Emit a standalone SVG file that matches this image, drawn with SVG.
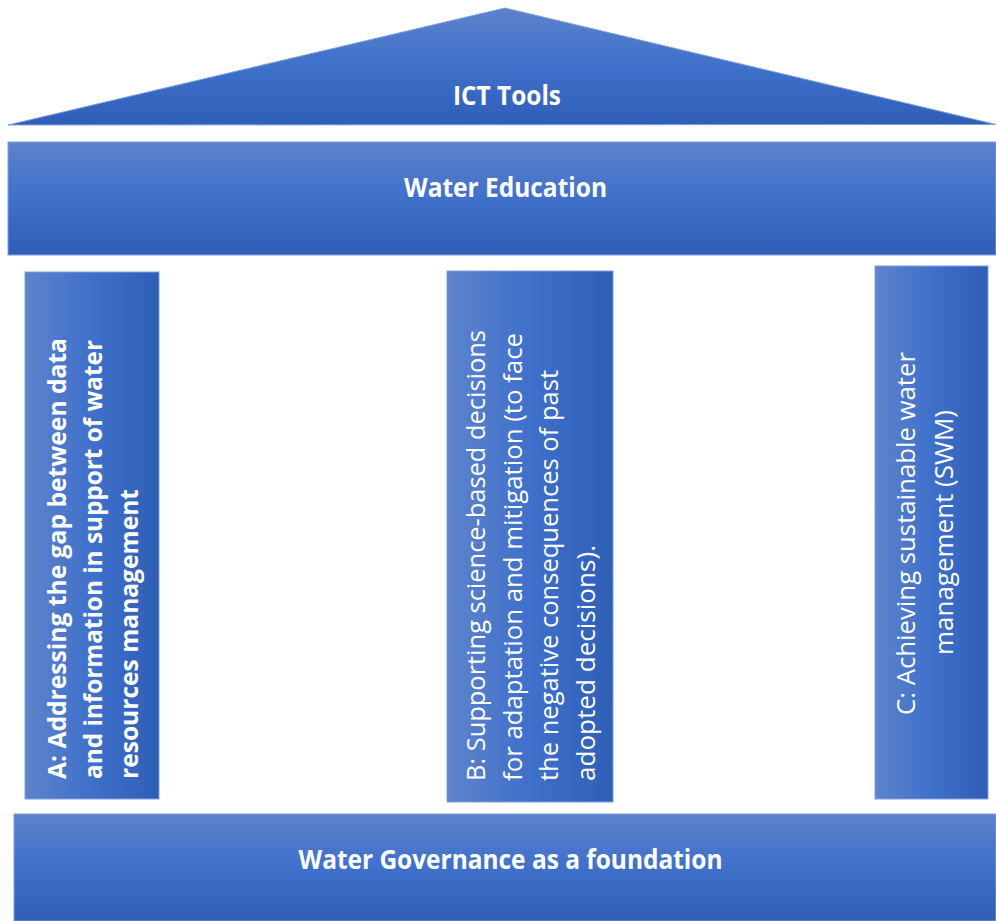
<svg xmlns="http://www.w3.org/2000/svg" width="996" height="921" viewBox="0 0 996 921">
<defs>
<linearGradient id="gv" x1="0" y1="0" x2="0" y2="1">
<stop offset="0" stop-color="#5D82CB"/>
<stop offset="0.5" stop-color="#3F70CB"/>
<stop offset="1" stop-color="#2F5EB6"/>
</linearGradient>
<linearGradient id="gh" x1="0" y1="0" x2="1" y2="0">
<stop offset="0" stop-color="#5E83CB"/>
<stop offset="0.5" stop-color="#3F70CB"/>
<stop offset="1" stop-color="#2F5EB6"/>
</linearGradient>
</defs>
<style>
.v{fill:url(#gv);stroke:#7E9FDB;stroke-width:1}
.h{fill:url(#gh);stroke:#7E9FDB;stroke-width:1}
text{font-family:"Open Sans","Noto Sans","Liberation Sans",sans-serif;fill:#FFFFFF}
.b{font-weight:bold}
.t{font-size:26px}
.p{font-size:25px}
</style>
<rect width="996" height="921" fill="#FFFFFF"/>
<g id="roof">
<polygon class="v" points="8,125 505,8 996,124.5"/>
<text class="b t" x="507" y="105" text-anchor="middle" textLength="108" lengthAdjust="spacingAndGlyphs">ICT Tools</text>
</g>
<g id="education">
<rect class="v" x="8" y="142" width="988" height="113"/>
<text class="b t" x="505.5" y="197" text-anchor="middle" textLength="203" lengthAdjust="spacingAndGlyphs">Water Education</text>
</g>
<g id="pillarA">
<rect class="h" x="25" y="272" width="134" height="527"/>
<g transform="rotate(-90)">
<text class="b p" x="-779" y="66" textLength="441" lengthAdjust="spacingAndGlyphs">A: Addressing the gap between data</text>
<text class="b p" x="-779" y="102" textLength="439" lengthAdjust="spacingAndGlyphs">and information in support of water</text>
<text class="b p" x="-779" y="138" textLength="290" lengthAdjust="spacingAndGlyphs">resources management</text>
</g>
</g>
<g id="pillarB">
<rect class="h" x="447" y="271" width="166" height="531"/>
<g transform="rotate(-90)">
<text class="p" x="-781" y="485" textLength="451" lengthAdjust="spacingAndGlyphs">B: Supporting science-based decisions</text>
<text class="p" x="-781" y="522" textLength="448" lengthAdjust="spacingAndGlyphs">for adaptation and mitigation (to face</text>
<text class="p" x="-781" y="558" textLength="411" lengthAdjust="spacingAndGlyphs">the negative consequences of past</text>
<text class="p" x="-781" y="595" textLength="236" lengthAdjust="spacingAndGlyphs">adopted decisions).</text>
</g>
</g>
<g id="pillarC">
<rect class="h" x="875" y="266" width="113" height="533"/>
<g transform="rotate(-90)">
<text class="p" x="-533.5" y="915" text-anchor="middle" textLength="363" lengthAdjust="spacingAndGlyphs">C: Achieving sustainable water</text>
<text class="p" x="-532.5" y="953" text-anchor="middle" textLength="245" lengthAdjust="spacingAndGlyphs">management (SWM)</text>
</g>
</g>
<g id="foundation">
<rect class="v" x="14" y="814" width="982" height="107"/>
<text class="b t" x="510.5" y="869" text-anchor="middle" textLength="424" lengthAdjust="spacingAndGlyphs">Water Governance as a foundation</text>
</g>
<g id="connectors"/>
</svg>
